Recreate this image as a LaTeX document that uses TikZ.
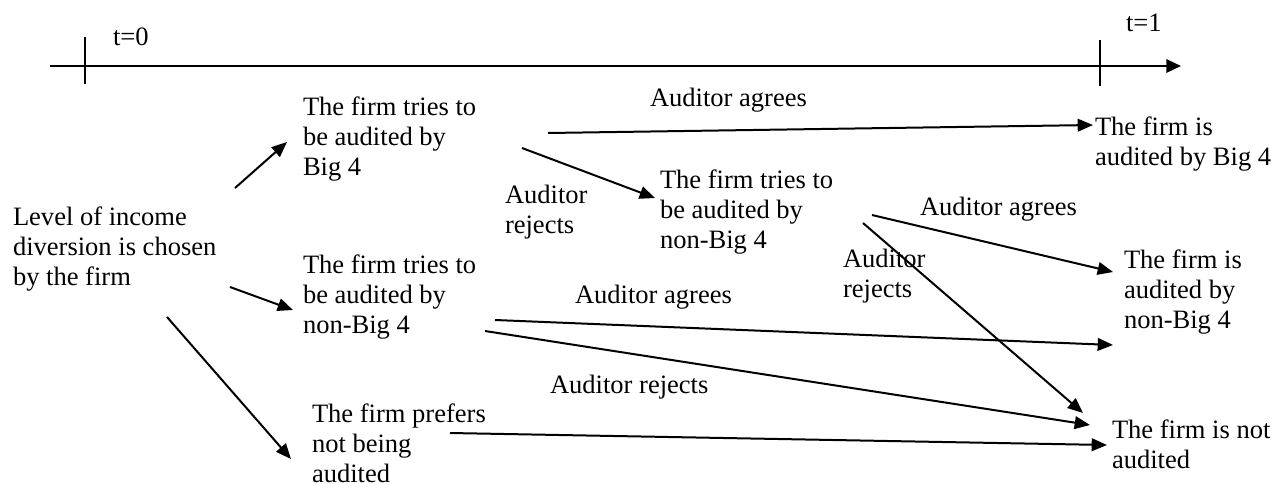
\documentclass[tikz,border=0pt]{standalone}
\usepackage{fontspec}
\setmainfont{Liberation Serif}
\usetikzlibrary{arrows.meta}
\newcommand{\mltext}[1]{\begin{tabular}[t]{@{}l@{}}#1\end{tabular}}
\begin{document}
\begin{tikzpicture}[x=0.75pt,y=-0.75pt,
  txt/.style={anchor=base west,inner sep=0pt,outer sep=0pt,font=\fontsize{19.9}{22.5}\selectfont},
  conn/.style={line width=1.5pt,-{Triangle[length=11.5pt,width=9.5pt]}},
  axis/.style={line width=1.7pt},
  thinaxis/.style={line width=1pt},
  tick/.style={line width=1.3pt}]
\useasboundingbox (0,0) rectangle (1274,483);
% timeline
\coordinate (axL) at (50,66);
\coordinate (axA) at (92,66);
\coordinate (axB) at (173,66);
\coordinate (axR) at (1181,66);
\coordinate (tk0a) at (85,37);
\coordinate (tk0b) at (85,84);
\coordinate (tk1a) at (1100,40);
\coordinate (tk1b) at (1100,86);
\draw[axis] (axL) -- (axA);
\draw[thinaxis] (axA) -- (axB);
\draw[axis,-{Triangle[length=11pt,width=10pt]}] (axB) -- (axR);
\draw[tick] (tk0a) -- (tk0b);
\draw[tick] (tk1a) -- (tk1b);
\node[txt] (t0) at (113,45) {t=0};
\node[txt] (t1) at (1126,31) {t=1};
% text nodes
\node[txt] (start) at (13,225) {\mltext{Level of income\\diversion is chosen\\by the firm}};
\node[txt] (try4) at (303,115) {\mltext{The firm tries to\\be audited by\\Big 4}};
\node[txt] (trynb) at (303,273) {\mltext{The firm tries to\\be audited by\\non-Big 4}};
\node[txt] (prefer) at (312,422) {\mltext{The firm prefers\\not being\\audited}};
\node[txt] (trynb2) at (660,188) {\mltext{The firm tries to\\be audited by\\non-Big 4}};
\node[txt] (res4) at (1095,135) {\mltext{The firm is\\audited by Big 4}};
\node[txt] (resnb) at (1124,268) {\mltext{The firm is\\audited by\\non-Big 4}};
\node[txt] (resnot) at (1112,438) {\mltext{The firm is not\\audited}};
% labels
\node[txt] (lag1) at (650,106) {Auditor agrees};
\node[txt] (lrj1) at (505,203) {\mltext{Auditor\\rejects}};
\node[txt] (lag2) at (920,215) {Auditor agrees};
\node[txt] (lrj2) at (843,267) {\mltext{Auditor\\rejects}};
\node[txt] (lag3) at (575,303) {Auditor agrees};
\node[txt] (lrj3) at (550,393) {Auditor rejects};
% connector end points
\coordinate (s1) at (235,188); \coordinate (e1) at (287,142);
\coordinate (s2) at (230,287); \coordinate (e2) at (293,310);
\coordinate (s3) at (167,317); \coordinate (e3) at (291,459);
\coordinate (s4) at (548,133); \coordinate (e4) at (1093,125);
\coordinate (s5) at (522,148); \coordinate (e5) at (655,198);
\coordinate (s6) at (872,215); \coordinate (e6) at (1113,272);
\coordinate (s7) at (863,223); \coordinate (e7) at (1083,413);
\coordinate (s8) at (495,320); \coordinate (e8) at (1113,345);
\coordinate (s9) at (485,331); \coordinate (e9) at (1090,425);
\coordinate (s10) at (450,433); \coordinate (e10) at (1107,445);
\draw[conn] (s1) -- (e1);
\draw[conn] (s2) -- (e2);
\draw[conn] (s3) -- (e3);
\draw[conn] (s4) -- (e4);
\draw[conn] (s5) -- (e5);
\draw[conn] (s6) -- (e6);
\draw[conn] (s7) -- (e7);
\draw[conn] (s8) -- (e8);
\draw[conn] (s9) -- (e9);
\draw[conn] (s10) -- (e10);
\end{tikzpicture}
\end{document}
